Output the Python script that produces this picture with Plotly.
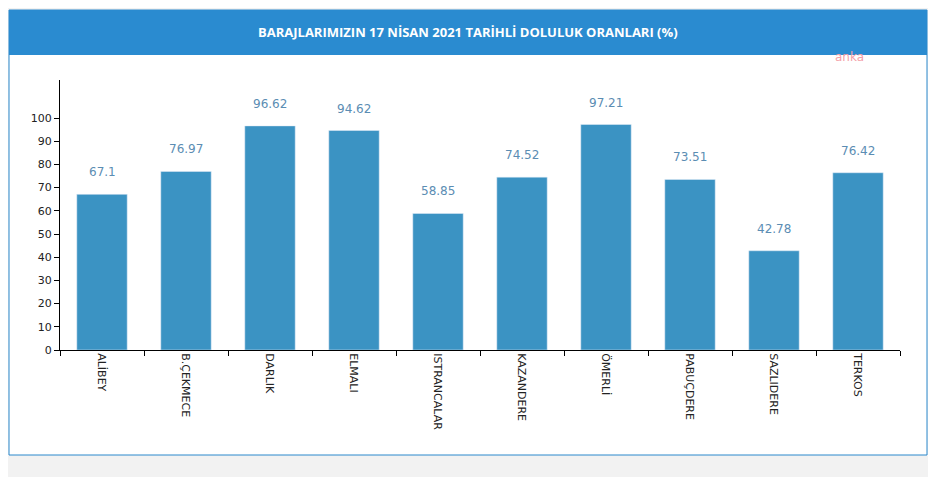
import plotly.graph_objects as go

dams = ['ALİBEY', 'B.ÇEKMECE', 'DARLIK', 'ELMALI', 'ISTRANCALAR', 'KAZANDERE',
        'ÖMERLİ', 'PABUÇDERE', 'SAZLIDERE', 'TERKOS']
fill_pct = [67.1, 76.97, 96.62, 94.62, 58.85, 74.52, 97.21, 73.51, 42.78, 76.42]
y_ticks = [0, 10, 20, 30, 40, 50, 60, 70, 80, 90, 100]

# page body has an 8px margin, so the figure is drawn 8px smaller
W, H = 928, 469
fig = go.Figure()
fig.add_trace(go.Bar(x=dams, y=fill_pct, marker_color='#3b93c3', width=0.6,
                     hoverinfo='x+y'))

for d, v in zip(dams, fill_pct):
    fig.add_annotation(x=d, y=v, text=f'{v:g}', showarrow=False, yshift=22,
                       font=dict(size=12, color='#5b8db3'))

# card frame + blue header (screen coords -> paper coords of 840x270 plot at 60,80)
def px(x):
    return (x - 60) / 840

def py(y):
    return (350 - y) / 270

fig.add_shape(type='rect', xref='paper', yref='paper',
              x0=px(9), x1=px(927), y0=py(455), y1=py(10),
              line=dict(color='#2a88cc', width=1), fillcolor='white', layer='below')
fig.add_shape(type='rect', xref='paper', yref='paper',
              x0=px(9), x1=px(927), y0=py(55), y1=py(10),
              line=dict(width=0), fillcolor='#2a8bd0', layer='below')
fig.add_annotation(xref='paper', yref='paper', x=px(468), y=py(32), yanchor='middle',
                   text='<b>BARAJLARIMIZIN 17 NİSAN 2021 TARİHLİ DOLULUK ORANLARI (%)</b>',
                   showarrow=False, font=dict(size=13, color='white', family='Open Sans'))
fig.add_annotation(xref='paper', yref='paper', x=px(866), y=py(57), yanchor='middle',
                   text='anka', showarrow=False, font=dict(size=12, color='#f4a0a8'))

fig.update_layout(
    width=W, height=H, margin=dict(l=52, r=36, t=72, b=127),
    paper_bgcolor='#f2f2f2', plot_bgcolor='white', showlegend=False,
    font=dict(family='DejaVu Sans', size=11, color='#222'),
    xaxis=dict(tickson='boundaries', ticks='outside', ticklen=5, tickangle=90,
               showline=True, linecolor='black', tickcolor='black',
               tickfont=dict(size=11)),
    yaxis=dict(range=[0, 116.4], tickvals=y_ticks, ticks='outside', ticklen=5,
               showline=True, linecolor='black', tickcolor='black', showgrid=False,
               zeroline=False, tickfont=dict(size=11)),
)
fig.write_html('out.html')
